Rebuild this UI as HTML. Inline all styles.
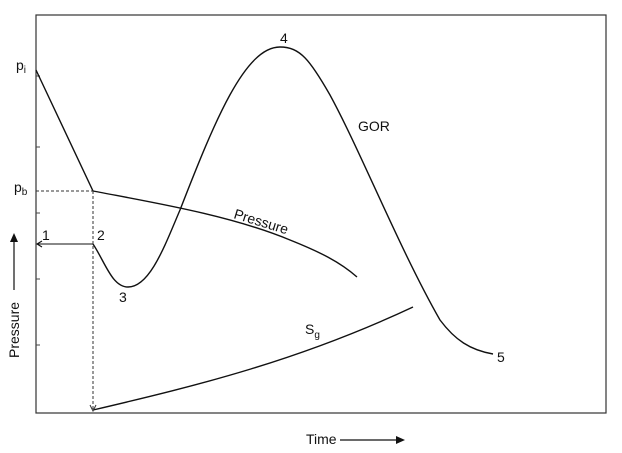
<!DOCTYPE html>
<html><head><style>body{margin:0;background:#fff}svg{display:block}text{font-family:"Liberation Sans",sans-serif;fill:#111}</style></head><body>
<svg width="622" height="453" viewBox="0 0 622 453">
<rect x="36" y="15" width="570" height="398" fill="none" stroke="#333" stroke-width="1.2"/>
<g stroke="#444" stroke-width="1">
<line x1="36" y1="76" x2="40" y2="76"/><line x1="36" y1="147" x2="40" y2="147"/><line x1="36" y1="213" x2="40" y2="213"/><line x1="36" y1="279" x2="40" y2="279"/><line x1="36" y1="345" x2="40" y2="345"/>
</g>
<g fill="none" stroke="#111" stroke-width="1.4">
<path d="M36 70 L93 191 C150 202 230 215 290 240 C320 252 340 262 357 277"/>
<path d="M93 244 C105 262 112 287 128 287 C150 287 165 245 180 210 C215 120 245 47 280 47 C300 47 310 60 330 95 C360 150 400 250 440 320 C455 340 470 350 493 354"/>
<path d="M93 410 C200 385 300 360 413 307"/>
<path d="M93 244 L37 244 M42 241 L37 244 L42 247" stroke-width="1.1"/>
</g>
<g stroke="#333" stroke-width="1" stroke-dasharray="3,2" fill="none">
<line x1="36" y1="191" x2="93" y2="191"/><line x1="93" y1="191" x2="93" y2="410"/>
</g>
<path d="M90 405 L93 411 L96 405" fill="none" stroke="#333"/>
<g font-size="14">
<text x="16" y="70">p<tspan font-size="10" dy="3">i</tspan></text>
<text x="14" y="192">p<tspan font-size="10" dy="3">b</tspan></text>
<text x="42" y="240">1</text><text x="97" y="240">2</text><text x="119" y="302">3</text>
<text x="280" y="43">4</text><text x="358" y="131">GOR</text>
<text x="497" y="362">5</text>
<text x="305" y="334">S<tspan font-size="10" dy="4">g</tspan></text>
<text x="233" y="218" transform="rotate(17 233 218)">Pressure</text>
<text x="306" y="444">Time</text>
<text x="19" y="358" transform="rotate(-90 19 358)">Pressure</text>
</g>
<line x1="340" y1="440" x2="396" y2="440" stroke="#111" stroke-width="1.2"/>
<path d="M396 436 L405 440 L396 444Z" fill="#111"/>
<line x1="14" y1="290" x2="14" y2="240" stroke="#111" stroke-width="1.2"/>
<path d="M10 242 L14 233 L18 242Z" fill="#111"/>
</svg>
</body></html>
